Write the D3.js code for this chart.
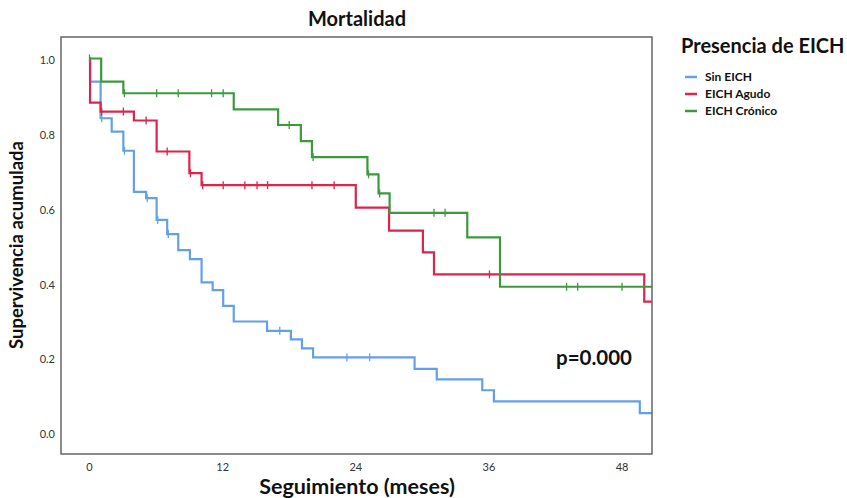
<!DOCTYPE html>
<html lang="es">
<head>
<meta charset="utf-8">
<title>Mortalidad</title>
<script src="https://cdn.jsdelivr.net/npm/d3@7"></script>
<style>
body { margin: 0; background: #fff; }
text { font-family: Lato, "Open Sans", sans-serif; }
</style>
</head>
<body>
<script>
// datos (meses, supervivencia)
var groups = ["Sin EICH", "EICH Agudo", "EICH Crónico"];
var colors = ["#64a0e8", "#e0234d", "#3c9a3c"];

var sinTimes = [0, 0.05, 1, 2, 3.05, 4, 5.1, 6.05, 7, 8, 9.05, 10.1, 11.1, 12.05, 13, 16, 18.15, 19.15, 20.15, 29.3, 31.3, 35.4, 36.45, 49.6, 51];
var sinSurv  = [1.0, 0.938, 0.840, 0.804, 0.753, 0.643, 0.626, 0.568, 0.530, 0.487, 0.463, 0.401, 0.380, 0.338, 0.296, 0.271, 0.248, 0.224, 0.200, 0.169, 0.141, 0.112, 0.082, 0.051, 0.051];
var sinCens  = [1.1, 3.15, 5.2, 6.15, 7.1, 17.15, 23.2, 25.25];

var agTimes = [0, 0.05, 1, 4, 6.05, 9, 10.1, 24, 27, 30.05, 31.05, 50, 51];
var agSurv  = [1.0, 0.882, 0.858, 0.834, 0.751, 0.693, 0.661, 0.601, 0.539, 0.481, 0.422, 0.349, 0.349];
var agCens  = [1.1, 3.05, 5.1, 7.0, 9.1, 10.2, 12.05, 14.0, 15.1, 16.05, 20.05, 22.05, 36.05];

var crTimes = [0, 1.05, 3.05, 13, 17, 19.05, 20.05, 25.05, 26.05, 27.05, 34.05, 37, 51];
var crSurv  = [1.0, 0.938, 0.907, 0.864, 0.822, 0.779, 0.736, 0.690, 0.639, 0.587, 0.521, 0.389, 0.389];
var crCens  = [0, 3.15, 6.05, 8, 11, 12.05, 18, 20.15, 25.15, 26.15, 31.05, 32.05, 43, 44, 48];

var xTicks = [0, 12, 24, 36, 48];
var yTicks = [0.0, 0.2, 0.4, 0.6, 0.8, 1.0];

var w = 847, h = 498;
var pLeft = 61, pRight = 652, pTop = 37, pBottom = 454;

var svg = d3.select("body").append("svg")
  .attr("width", w)
  .attr("height", h);

var x = d3.scaleLinear().domain([-2.57, 50.7]).range([pLeft, pRight]);
var y = d3.scaleLinear().domain([-0.0586, 1.0575]).range([pBottom, pTop]);

svg.append("clipPath").attr("id", "clip")
  .append("rect")
  .attr("x", pLeft).attr("y", pTop)
  .attr("width", pRight - pLeft).attr("height", pBottom - pTop);

var series = [
  { times: sinTimes, surv: sinSurv, cens: sinCens },
  { times: agTimes, surv: agSurv, cens: agCens },
  { times: crTimes, surv: crSurv, cens: crCens }
];

var line = d3.line()
  .x(function(d) { return x(d[0]); })
  .y(function(d) { return y(d[1]); })
  .curve(d3.curveStepAfter);

function survAt(s, t) {
  var v = s.surv[0];
  for (var i = 0; i < s.times.length; i++) {
    if (s.times[i] <= t) v = s.surv[i];
  }
  return v;
}

var plot = svg.append("g").attr("clip-path", "url(#clip)");

series.forEach(function(s, k) {
  var pts = s.times.map(function(t, i) { return [t, s.surv[i]]; });
  plot.append("path")
    .attr("d", line(pts))
    .attr("fill", "none")
    .attr("stroke", colors[k])
    .attr("stroke-width", 2.2)
    .attr("stroke-linejoin", "miter");

  plot.selectAll(null)
    .data(s.cens)
    .enter()
    .append("line")
    .attr("x1", function(d) { return x(d); })
    .attr("x2", function(d) { return x(d); })
    .attr("y1", function(d) { return y(survAt(s, d)) - 4; })
    .attr("y2", function(d) { return y(survAt(s, d)) + 4; })
    .attr("stroke", colors[k])
    .attr("stroke-width", 1.3);
});

// marco
svg.append("rect")
  .attr("x", pLeft).attr("y", pTop)
  .attr("width", pRight - pLeft).attr("height", pBottom - pTop)
  .attr("fill", "none")
  .attr("stroke", "#666")
  .attr("stroke-width", 1.5);

// etiquetas de ejes
svg.selectAll("text.ytick")
  .data(yTicks)
  .enter()
  .append("text")
  .attr("class", "ytick")
  .attr("x", 55)
  .attr("y", function(d) { return y(d) + 6; })
  .attr("text-anchor", "end")
  .attr("font-family", "'Liberation Sans Narrow', 'Liberation Sans', sans-serif")
  .attr("font-size", "11px")
  .attr("fill", "#333")
  .text(function(d) { return d.toFixed(1); });

svg.selectAll("text.xtick")
  .data(xTicks)
  .enter()
  .append("text")
  .attr("class", "xtick")
  .attr("x", function(d) { return x(d); })
  .attr("y", 471)
  .attr("text-anchor", "middle")
  .attr("font-family", "'Liberation Sans Narrow', 'Liberation Sans', sans-serif")
  .attr("font-size", "11px")
  .attr("fill", "#333")
  .text(function(d) { return d; });

svg.append("text")
  .attr("x", 357).attr("y", 26)
  .attr("text-anchor", "middle")
  .attr("font-size", "20px")
  .attr("font-weight", "bold")
  .attr("fill", "#111")
  .text("Mortalidad");

svg.append("text")
  .attr("x", 357).attr("y", 494)
  .attr("text-anchor", "middle")
  .attr("font-size", "21.5px")
  .attr("font-weight", "bold")
  .attr("fill", "#111")
  .text("Seguimiento (meses)");

svg.append("text")
  .attr("transform", "translate(23,245) rotate(-90)")
  .attr("text-anchor", "middle")
  .attr("font-size", "18.5px")
  .attr("font-weight", "bold")
  .attr("fill", "#111")
  .text("Supervivencia acumulada");

svg.append("text")
  .attr("x", 556).attr("y", 365)
  .attr("font-size", "20.5px")
  .attr("font-weight", "bold")
  .attr("fill", "#111")
  .text("p=0.000");

// leyenda
svg.append("text")
  .attr("x", 681).attr("y", 53)
  .attr("font-size", "20px")
  .attr("font-weight", "bold")
  .attr("fill", "#111")
  .text("Presencia de EICH");

var leg = svg.selectAll("g.leg")
  .data(groups)
  .enter()
  .append("g")
  .attr("class", "leg")
  .attr("transform", function(d, i) { return "translate(685," + (77 + i * 17) + ")"; });

leg.append("line")
  .attr("x1", 0).attr("x2", 12)
  .attr("stroke", function(d, i) { return colors[i]; })
  .attr("stroke-width", 2.5);

leg.append("text")
  .attr("x", 20).attr("y", 4)
  .attr("font-size", "12px")
  .attr("font-weight", "bold")
  .attr("fill", "#111")
  .text(function(d) { return d; });
</script>
</body>
</html>
